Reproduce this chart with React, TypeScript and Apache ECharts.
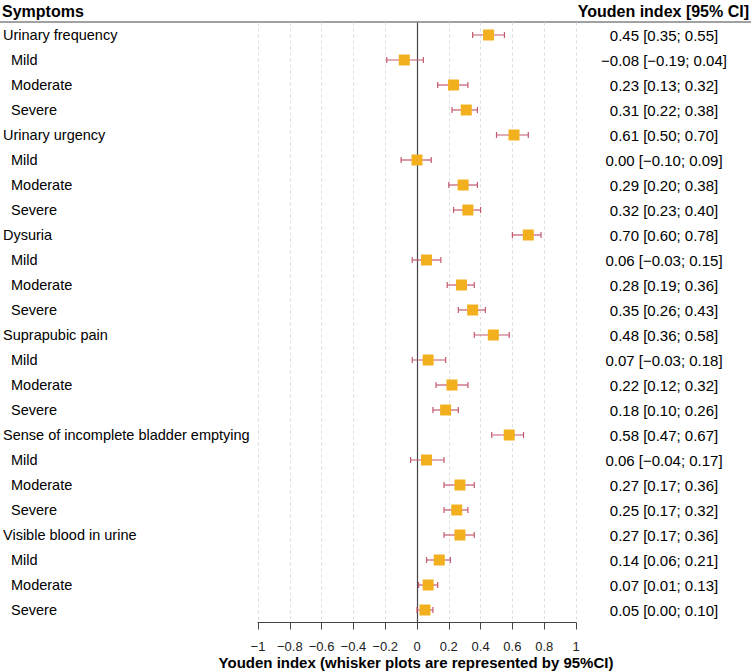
import React, { useEffect, useRef } from "react";
import * as echarts from "echarts";

const labels = [
  "Urinary frequency", "Mild", "Moderate", "Severe",
  "Urinary urgency", "Mild", "Moderate", "Severe",
  "Dysuria", "Mild", "Moderate", "Severe",
  "Suprapubic pain", "Mild", "Moderate", "Severe",
  "Sense of incomplete bladder emptying", "Mild", "Moderate", "Severe",
  "Visible blood in urine", "Mild", "Moderate", "Severe",
];
const isSub = labels.map((l) => l === "Mild" || l === "Moderate" || l === "Severe");
const estimates = [
  0.45, -0.08, 0.23, 0.31,
  0.61, 0.0, 0.29, 0.32,
  0.70, 0.06, 0.28, 0.35,
  0.48, 0.07, 0.22, 0.18,
  0.58, 0.06, 0.27, 0.25,
  0.27, 0.14, 0.07, 0.05,
];
const lower = [
  0.35, -0.19, 0.13, 0.22,
  0.50, -0.10, 0.20, 0.23,
  0.60, -0.03, 0.19, 0.26,
  0.36, -0.03, 0.12, 0.10,
  0.47, -0.04, 0.17, 0.17,
  0.17, 0.06, 0.01, 0.00,
];
const upper = [
  0.55, 0.04, 0.32, 0.38,
  0.70, 0.09, 0.38, 0.40,
  0.78, 0.15, 0.36, 0.43,
  0.58, 0.18, 0.32, 0.26,
  0.67, 0.17, 0.36, 0.32,
  0.36, 0.21, 0.13, 0.10,
];
const xTicks = { min: -1, max: 1, interval: 0.2 };

const fmt = (v: number) => v.toFixed(2).replace("-", "\u2212");
const rightTexts = estimates.map((e, i) => `${fmt(e)} [${fmt(lower[i])}; ${fmt(upper[i])}]`);

const FONT = "'Liberation Sans', Arial, Helvetica, sans-serif";
const SQUARE = "#F2B01E";
const WHISKER = "#C45A6E";

export default function App() {
  const ref = useRef<HTMLDivElement>(null);
  useEffect(() => {
    if (!ref.current) return;
    const chart = echarts.init(ref.current, undefined, { renderer: "svg" });
    chart.setOption({
      animation: false,
      textStyle: { fontFamily: FONT },
      grid: { left: 256, width: 320, top: 22.5, height: 600, containLabel: false },
      xAxis: {
        type: "value",
        min: xTicks.min,
        max: xTicks.max,
        interval: xTicks.interval,
        axisLine: { show: true, lineStyle: { color: "#444", width: 1 } },
        axisTick: { show: true, length: 7, lineStyle: { color: "#444" } },
        axisLabel: {
          color: "#222",
          fontSize: 13,
          lineHeight: 13,
          fontFamily: FONT,
          margin: 17,
          formatter: (v: number) => String(Number(v.toFixed(1))).replace("-", "\u2212"),
        },
        splitLine: { show: true, lineStyle: { color: "#dcdcdc", type: [3, 3], width: 1 } },
      },
      yAxis: [
        {
          type: "category",
          data: labels,
          inverse: true,
          position: "left",
          axisLine: { show: false },
          axisTick: { show: false },
          splitLine: { show: false },
          axisLabel: {
            align: "left",
            margin: 255,
            color: "#000",
            fontSize: 14.5,
            fontFamily: FONT,
            formatter: (v: string, i: number) => (isSub[i] ? `{sub|${v}}` : `{main|${v}}`),
            rich: {
              main: { fontSize: 14.5, fontFamily: FONT, color: "#000" },
              sub: { fontSize: 14.5, fontFamily: FONT, color: "#000", padding: [0, 0, 0, 8] },
            },
          },
        },
        {
          type: "category",
          data: rightTexts,
          inverse: true,
          position: "right",
          axisLine: { show: false },
          axisTick: { show: false },
          splitLine: { show: false },
          axisLabel: {
            align: "center",
            margin: 88,
            color: "#000",
            fontSize: 15,
            fontFamily: FONT,
          },
        },
      ],
      series: [
        {
          type: "custom",
          yAxisIndex: 0,
          data: lower.map((lo, i) => [lo, upper[i], i]),
          encode: { x: [0, 1], y: 2 },
          renderItem: (params: any, api: any) => {
            const p1 = api.coord([api.value(0), api.value(2)]);
            const p2 = api.coord([api.value(1), api.value(2)]);
            const h = 3;
            const style = { stroke: WHISKER, lineWidth: 1.2 };
            return {
              type: "group",
              children: [
                { type: "line", shape: { x1: p1[0], y1: p1[1], x2: p2[0], y2: p2[1] }, style },
                { type: "line", shape: { x1: p1[0], y1: p1[1] - h, x2: p1[0], y2: p1[1] + h }, style },
                { type: "line", shape: { x1: p2[0], y1: p2[1] - h, x2: p2[0], y2: p2[1] + h }, style },
              ],
            };
          },
          z: 3,
        },
        {
          type: "scatter",
          yAxisIndex: 0,
          data: estimates.map((e, i) => [e, i]),
          symbol: "rect",
          symbolSize: 11,
          itemStyle: { color: SQUARE, opacity: 1 },
          z: 4,
          markLine: {
            silent: true,
            symbol: "none",
            label: { show: false },
            lineStyle: { color: "#444", type: "solid", width: 1.2 },
            data: [{ xAxis: 0 }],
            z: 2,
          },
        },
      ],
      graphic: [
        {
          type: "line",
          shape: { x1: 0, y1: 22, x2: 751, y2: 22 },
          style: { stroke: "#444", lineWidth: 1.2 },
        },
        {
          type: "text",
          x: 2,
          y: 11,
          style: { text: "Symptoms", font: `bold 16px ${FONT}`, fill: "#000", textVerticalAlign: "middle" },
        },
        {
          type: "text",
          x: 749,
          y: 11,
          style: {
            text: "Youden index [95% CI]",
            font: `bold 16px ${FONT}`,
            fill: "#000",
            textAlign: "right",
            textVerticalAlign: "middle",
          },
        },
        {
          type: "text",
          x: 416,
          y: 662,
          style: {
            text: "Youden index (whisker plots are represented by 95%CI)",
            font: `bold 15px ${FONT}`,
            fill: "#000",
            textAlign: "center",
            textVerticalAlign: "middle",
          },
        },
      ],
    });
    return () => chart.dispose();
  }, []);
  return (
    <div
      ref={ref}
      style={{ position: "fixed", left: 0, top: 0, width: 751, height: 671, background: "#fff" }}
    />
  );
}
